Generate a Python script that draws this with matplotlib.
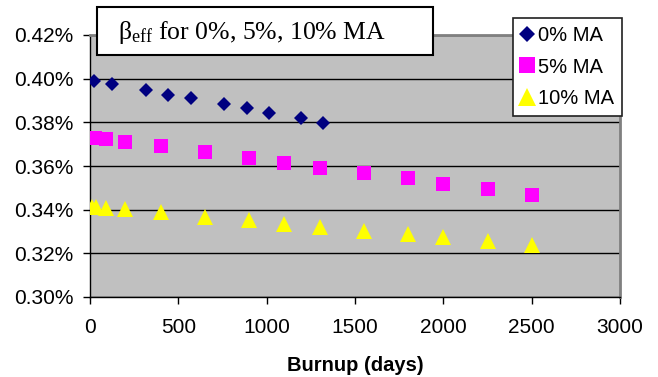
import matplotlib
matplotlib.use('Agg')
import matplotlib.pyplot as plt

# beta_eff vs burnup (values in %)
days_0 = [25, 125, 315, 440, 570, 760, 890, 1015, 1195, 1320]
beta_0 = [0.3990, 0.3976, 0.3948, 0.3927, 0.3911, 0.3882, 0.3866, 0.3844, 0.3819, 0.3798]

days_5 = [10, 30, 90, 200, 400, 650, 900, 1100, 1300, 1550, 1800, 2000, 2250, 2500]
beta_5 = [0.3729, 0.3727, 0.3722, 0.3712, 0.3691, 0.3665, 0.3637, 0.3614,
          0.3591, 0.3567, 0.3543, 0.3519, 0.3495, 0.3467]

days_10 = [10, 35, 90, 200, 400, 650, 900, 1100, 1300, 1550, 1800, 2000, 2250, 2500]
beta_10 = [0.3414, 0.3413, 0.3409, 0.3401, 0.3388, 0.3368, 0.3352, 0.3336,
           0.3322, 0.3304, 0.3289, 0.3273, 0.3255, 0.3240]

labels = ['0% MA', '5% MA', '10% MA']
yticks = [0.30, 0.32, 0.34, 0.36, 0.38, 0.40, 0.42]
xticks = [0, 500, 1000, 1500, 2000, 2500, 3000]

plt.rcParams['font.family'] = ['Liberation Sans', 'DejaVu Sans']
plt.rcParams['mathtext.fontset'] = 'custom'
plt.rcParams['mathtext.rm'] = 'Liberation Serif'
plt.rcParams['mathtext.it'] = 'Liberation Serif:italic'

W, H = 658, 377
fig = plt.figure(figsize=(W / 100, H / 100), dpi=100)
ax = fig.add_axes([90 / W, 1 - 297 / H, 530 / W, 262 / H])
ax.set_facecolor('#C0C0C0')

ax.plot(days_0, beta_0, 'D', color='#000080', ms=7.2, mew=0, label=labels[0], zorder=3)
ax.plot(days_5, beta_5, 's', color='#FF00FF', ms=10, mew=0, label=labels[1], zorder=3)
ax.plot(days_10, beta_10, '^', color='#FFFF00', ms=11, mew=0, label=labels[2], zorder=3)

ax.set_xlim(0, 3000)
ax.set_ylim(0.30, 0.42)
ax.set_xticks(xticks)
ax.set_yticks(yticks)
ax.set_yticklabels([f'{v:.2f}%' for v in yticks])
ax.tick_params(axis='both', direction='out', length=5, width=1, color='black', labelsize=15)
ax.tick_params(axis='x', pad=10)
ax.tick_params(axis='y', pad=7)

ax.set_axisbelow(True)
ax.yaxis.grid(True, color='black', lw=1)
for side in ['left', 'bottom']:
    ax.spines[side].set_color('black')
    ax.spines[side].set_linewidth(1)
for side in ['top', 'right']:
    ax.spines[side].set_color('#808080')
    ax.spines[side].set_linewidth(2)

ax.set_xlabel('Burnup (days)', fontsize=14.5, fontweight='bold', labelpad=14)

leg = fig.legend(loc='upper left', bbox_to_anchor=(513 / W, 1 - 18 / H), fontsize=14.5,
                 frameon=True, fancybox=False, edgecolor='#202020', framealpha=1,
                 borderpad=0.4, labelspacing=0.62, handlelength=0.55, handletextpad=0.3,
                 borderaxespad=0, markerscale=1.15)
leg.get_frame().set_linewidth(1.2)

box = plt.Rectangle((97 / W, 1 - 55 / H), 336 / W, 48 / H, transform=fig.transFigure,
                    fc='white', ec='black', lw=1.5, zorder=4)
fig.add_artist(box)
fig.text(118 / W, 1 - 32 / H, r'β$_{\mathrm{eff}}$ for 0%, 5%, 10% MA',
         family='Liberation Serif', fontsize=18.5, va='center', ha='left', zorder=5)

fig.savefig('out.png', dpi=100)
